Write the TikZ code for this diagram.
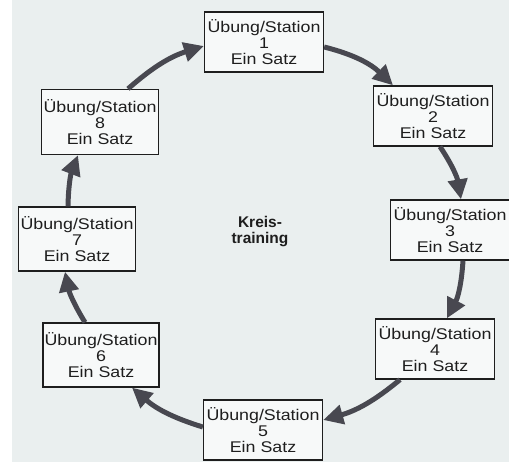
\documentclass[tikz,border=0pt]{standalone}
\usepackage{fontspec}
\setmainfont{Liberation Sans}
\newfontfamily\boxfont[FakeStretch=1.15]{Liberation Sans}
\usetikzlibrary{arrows.meta}
\definecolor{bgc}{RGB}{234,239,239}
\definecolor{boxc}{RGB}{247,249,249}
\definecolor{arrc}{RGB}{72,72,80}
\definecolor{inkc}{RGB}{30,30,30}
\begin{document}
\begin{tikzpicture}[x=1pt,y=1pt,
  station/.style={draw=inkc, line width=1.3pt, fill=boxc, minimum width=119pt,
    minimum height=60pt, inner sep=0pt, align=center, text=inkc,
    font=\boxfont\fontsize{15.5}{16}\selectfont},
  flow/.style={draw=arrc, line width=5pt,
    -{Triangle[length=20pt,width=19pt]}, arrc}]
\useasboundingbox (0,0) rectangle (509,468);
\fill[white] (0,0) rectangle (509,468);
\fill[bgc] (12,6) rectangle (509,468);
\node[station] (s1) at (264,426) {Übung/Station\\1\\Ein Satz};
\node[station] (s2) at (433,352) {Übung/Station\\2\\Ein Satz};
\node[station] (s3) at (450,238) {Übung/Station\\3\\Ein Satz};
\node[station] (s4) at (435,119) {Übung/Station\\4\\Ein Satz};
\node[station] (s5) at (263,38) {Übung/Station\\5\\Ein Satz};
\node[station, minimum height=64pt, minimum width=116pt] (s6) at (101,113) {Übung/Station\\6\\Ein Satz};
\node[station, minimum height=64pt, minimum width=117pt] (s7) at (77,229) {Übung/Station\\7\\Ein Satz};
\node[station, minimum height=65pt, minimum width=117pt] (s8) at (100,346) {Übung/Station\\8\\Ein Satz};
\node[align=center, text=inkc, font=\bfseries\fontsize{15.5}{16}\selectfont] (title) at (260,236) {Kreis-\\training};
\draw[flow] ([yshift=-5pt]s1.east) to[bend left=15] ([xshift=-40pt]s2.north);
\draw[flow] ([xshift=7pt]s2.south) to[bend left=12] ([xshift=11pt]s3.north);
\draw[flow] ([xshift=13pt]s3.south) to[bend left=12] ([xshift=12pt]s4.north);
\draw[flow] ([xshift=-35pt]s4.south) to[bend left=12] ([yshift=10pt]s5.east);
\draw[flow] ([yshift=3pt]s5.west) to[bend left=12] ([xshift=31pt]s6.south);
\draw[flow] ([xshift=-16pt]s6.north) to[bend left=10] ([xshift=-12pt]s7.south);
\draw[flow] ([xshift=-9pt]s7.north) to[bend left=10] ([xshift=-22pt]s8.south);
\draw[flow] ([xshift=28pt]s8.north) to[bend left=12] ([yshift=-4pt]s1.west);
\end{tikzpicture}
\end{document}
